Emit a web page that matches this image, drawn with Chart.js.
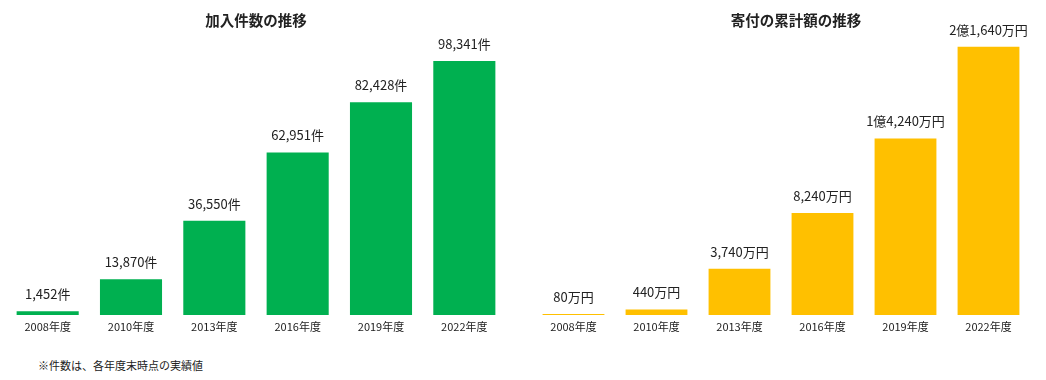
<!DOCTYPE html>
<html lang="ja">
<head>
<meta charset="utf-8">
<script src="https://cdn.jsdelivr.net/npm/chart.js@4"></script>
<style>
  body { margin: 0; background: #fff; font-family: "Noto Sans CJK JP", sans-serif; }
  #wrap { position: relative; width: 1046px; height: 380px; overflow: hidden; }
  .box { position: absolute; top: 0; height: 340px; }
  .ttl { position: absolute; top: 9px; font-weight: bold; font-size: 14.5px; color: #222; transform: translateX(-50%); white-space: nowrap; }
  #note { position: absolute; left: 38px; top: 357px; font-size: 11px; color: #222; }
</style>
</head>
<body>
<div id="wrap">
  <div class="box" style="left:0;width:512px"><canvas id="kanyuChart"></canvas></div>
  <div class="box" style="left:520px;width:526px"><canvas id="kifuChart"></canvas></div>
  <div class="ttl" style="left:256px">加入件数の推移</div>
  <div class="ttl" style="left:796px">寄付の累計額の推移</div>
  <div id="note">※件数は、各年度末時点の実績値</div>
</div>
<script>
// 年度
const years = ['2008年度', '2010年度', '2013年度', '2016年度', '2019年度', '2022年度'];
// 加入件数（件）
const kanyuKensu = [1452, 13870, 36550, 62951, 82428, 98341];
// 寄付の累計額（万円）
const kifuRuikei = [80, 440, 3740, 8240, 14240, 21640];

const fontJP = '"Noto Sans CJK JP", sans-serif';

// 件数のラベル
const fmtKensu = v => v.toLocaleString('en-US') + '件';
// 金額のラベル（億・万円）
const fmtYen = v => {
  if (v >= 10000) {
    return Math.floor(v / 10000) + '億' + (v % 10000).toLocaleString('en-US') + '万円';
  }
  return v.toLocaleString('en-US') + '万円';
};

// バーの上に値を表示するプラグイン
const valueLabels = {
  id: 'valueLabels',
  afterDatasetsDraw(chart, args, opts) {
    const { ctx } = chart;
    const meta = chart.getDatasetMeta(0);
    ctx.save();
    ctx.font = '13px ' + fontJP;
    ctx.fillStyle = '#222';
    ctx.textAlign = 'center';
    ctx.textBaseline = 'middle';
    meta.data.forEach((bar, i) => {
      const v = chart.data.datasets[0].data[i];
      ctx.fillText(opts.format(v), bar.x, bar.y - 17);
    });
    ctx.restore();
  }
};

function makeChart(id, values, color, max, pad, format) {
  const ctx = document.getElementById(id).getContext('2d');
  return new Chart(ctx, {
    type: 'bar',
    data: {
      labels: years,
      datasets: [{
        data: values,
        backgroundColor: color,
        borderWidth: 0,
        categoryPercentage: 1,
        barPercentage: 0.745,
      }],
    },
    options: {
      responsive: true,
      maintainAspectRatio: false,
      animation: false,
      layout: { padding: pad },
      plugins: {
        legend: { display: false },
        tooltip: { enabled: false },
        valueLabels: { format },
      },
      scales: {
        x: {
          grid: { display: false },
          border: { display: false },
          ticks: { color: '#222', padding: -3, font: { size: 11, family: fontJP } },
          afterFit: (scale) => { scale.height = 18; },
        },
        y: { display: false, min: 0, max: max },
      },
    },
    plugins: [valueLabels],
  });
}

makeChart('kanyuChart', kanyuKensu, '#00B050', 110000, { top: 31, left: 6, right: 6, bottom: 7 }, fmtKensu);
makeChart('kifuChart', kifuRuikei, '#FFC000', 23000, { top: 30, left: 12, right: 16, bottom: 7 }, fmtYen);
</script>
</body>
</html>
